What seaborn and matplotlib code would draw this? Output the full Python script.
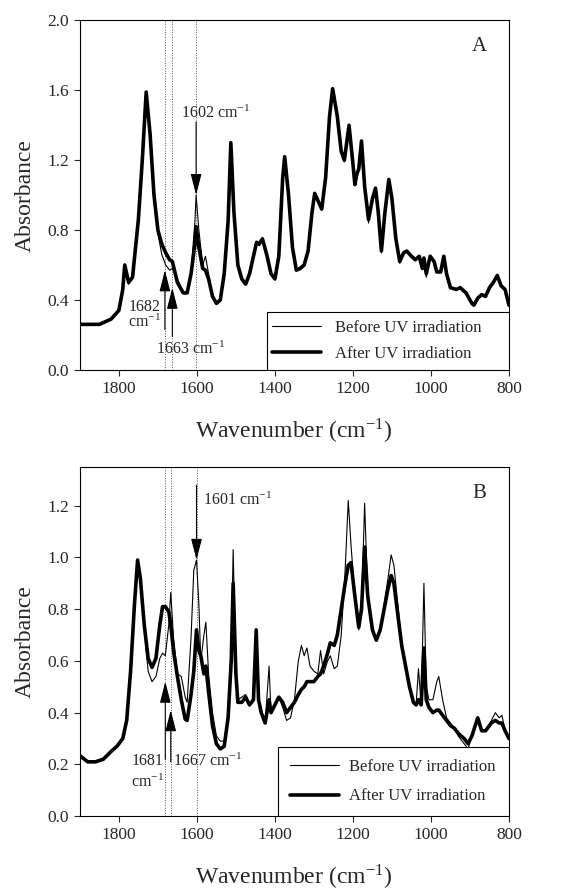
import matplotlib
matplotlib.use("Agg")
import matplotlib.pyplot as plt
from matplotlib.patches import Rectangle
import seaborn as sns

# Panel A: wavenumber grid and absorbance
wn_a = [1900, 1850, 1820, 1800, 1790, 1785, 1775, 1765, 1750, 1740,
        1730, 1720, 1710, 1700, 1690, 1680, 1670, 1663, 1650, 1635,
        1625, 1615, 1605, 1602, 1595, 1585, 1578, 1570, 1560, 1550,
        1540, 1530, 1520, 1513, 1505, 1495, 1485, 1475, 1465, 1455,
        1447, 1440, 1432, 1420, 1410, 1400, 1390, 1380, 1375, 1365,
        1355, 1345, 1335, 1325, 1315, 1305, 1298, 1290, 1280, 1270,
        1260, 1252, 1240, 1230, 1222, 1210, 1200, 1195, 1190, 1185,
        1178, 1170, 1160, 1150, 1142, 1135, 1127, 1118, 1108, 1100,
        1090, 1080, 1070, 1062, 1050, 1040, 1030, 1022, 1018, 1012,
        1002, 992, 985, 975, 967, 960, 950, 935, 925, 910,
        895, 890, 880, 870, 860, 850, 840, 830, 820, 810,
        800]
after_a = [0.26, 0.26, 0.29, 0.34, 0.46, 0.60, 0.50, 0.53, 0.86, 1.20,
           1.59, 1.35, 1.00, 0.80, 0.72, 0.67, 0.63, 0.62, 0.50, 0.44,
           0.44, 0.55, 0.72, 0.82, 0.70, 0.58, 0.57, 0.52, 0.42, 0.38,
           0.40, 0.55, 0.85, 1.30, 0.90, 0.60, 0.52, 0.49, 0.55, 0.65,
           0.73, 0.72, 0.75, 0.65, 0.55, 0.52, 0.65, 1.10, 1.22, 1.00,
           0.70, 0.57, 0.58, 0.60, 0.68, 0.90, 1.01, 0.97, 0.92, 1.10,
           1.45, 1.61, 1.45, 1.25, 1.20, 1.40, 1.18, 1.06, 1.12, 1.15,
           1.31, 1.05, 0.86, 0.98, 1.04, 0.90, 0.68, 0.90, 1.09, 0.98,
           0.75, 0.62, 0.67, 0.68, 0.65, 0.63, 0.65, 0.58, 0.64, 0.55,
           0.65, 0.62, 0.56, 0.56, 0.65, 0.55, 0.47, 0.46, 0.47, 0.44,
           0.38, 0.37, 0.41, 0.43, 0.42, 0.47, 0.50, 0.54, 0.48, 0.46,
           0.37]
before_a = [0.26, 0.26, 0.29, 0.34, 0.46, 0.60, 0.49, 0.53, 0.86, 1.20,
            1.59, 1.35, 1.00, 0.78, 0.66, 0.60, 0.57, 0.58, 0.52, 0.44,
            0.44, 0.56, 0.85, 1.00, 0.80, 0.60, 0.65, 0.55, 0.42, 0.38,
            0.40, 0.55, 0.85, 1.30, 0.90, 0.60, 0.52, 0.49, 0.55, 0.65,
            0.72, 0.71, 0.74, 0.65, 0.55, 0.52, 0.65, 1.10, 1.22, 1.00,
            0.70, 0.57, 0.59, 0.60, 0.68, 0.90, 1.01, 0.97, 0.92, 1.10,
            1.45, 1.61, 1.45, 1.25, 1.19, 1.40, 1.18, 1.07, 1.12, 1.15,
            1.31, 1.05, 0.84, 0.98, 1.04, 0.90, 0.67, 0.90, 1.09, 0.98,
            0.75, 0.61, 0.67, 0.68, 0.65, 0.63, 0.65, 0.58, 0.64, 0.53,
            0.65, 0.62, 0.56, 0.56, 0.65, 0.53, 0.47, 0.46, 0.47, 0.44,
            0.38, 0.37, 0.41, 0.43, 0.42, 0.47, 0.50, 0.54, 0.48, 0.46,
            0.37]

# Panel B
wn_b = [1900, 1880, 1860, 1840, 1820, 1805, 1790, 1780, 1770, 1760,
        1752, 1745, 1735, 1725, 1715, 1705, 1695, 1688, 1681, 1672,
        1667, 1660, 1650, 1640, 1630, 1625, 1615, 1608, 1601, 1595,
        1590, 1582, 1577, 1570, 1560, 1550, 1540, 1530, 1520, 1512,
        1507, 1500, 1495, 1485, 1475, 1465, 1455, 1448, 1442, 1435,
        1425, 1415, 1410, 1400, 1390, 1380, 1370, 1360, 1350, 1340,
        1332, 1325, 1318, 1310, 1300, 1290, 1283, 1275, 1265, 1258,
        1248, 1240, 1230, 1220, 1212, 1205, 1195, 1185, 1178, 1170,
        1162, 1150, 1140, 1130, 1120, 1110, 1102, 1095, 1085, 1075,
        1065, 1055, 1045, 1038, 1032, 1025, 1018, 1012, 1005, 995,
        985, 980, 970, 960, 950, 940, 930, 915, 905, 895,
        880, 870, 860, 845, 835, 825, 818, 810, 800]
after_b = [0.234, 0.21, 0.21, 0.22, 0.25, 0.27, 0.30, 0.37, 0.56, 0.82,
           0.99, 0.92, 0.74, 0.61, 0.575, 0.61, 0.74, 0.81, 0.81, 0.79,
           0.74, 0.64, 0.54, 0.45, 0.375, 0.37, 0.47, 0.56, 0.72, 0.64,
           0.62, 0.55, 0.58, 0.48, 0.35, 0.28, 0.26, 0.27, 0.38, 0.60,
           0.90, 0.55, 0.44, 0.44, 0.46, 0.43, 0.45, 0.72, 0.45, 0.40,
           0.36, 0.45, 0.40, 0.43, 0.46, 0.44, 0.40, 0.42, 0.44, 0.47,
           0.49, 0.50, 0.52, 0.52, 0.52, 0.54, 0.55, 0.58, 0.63, 0.67,
           0.66, 0.70, 0.80, 0.90, 0.97, 0.98, 0.85, 0.73, 0.80, 1.04,
           0.85, 0.72, 0.68, 0.72, 0.80, 0.88, 0.93, 0.90, 0.78, 0.66,
           0.58, 0.50, 0.44, 0.43, 0.45, 0.43, 0.65, 0.45, 0.42, 0.40,
           0.41, 0.41, 0.39, 0.37, 0.35, 0.34, 0.32, 0.30, 0.28, 0.31,
           0.38, 0.33, 0.33, 0.36, 0.37, 0.36, 0.36, 0.33, 0.30]
before_b = [0.234, 0.21, 0.21, 0.22, 0.25, 0.27, 0.30, 0.37, 0.56, 0.82,
            0.99, 0.92, 0.72, 0.56, 0.52, 0.54, 0.61, 0.63, 0.62, 0.74,
            0.865, 0.69, 0.55, 0.54, 0.46, 0.44, 0.69, 0.95, 0.99, 0.82,
            0.60, 0.70, 0.75, 0.55, 0.40, 0.31, 0.29, 0.29, 0.40, 0.62,
            1.03, 0.55, 0.45, 0.46, 0.47, 0.43, 0.45, 0.72, 0.45, 0.40,
            0.36, 0.58, 0.40, 0.43, 0.46, 0.42, 0.37, 0.38, 0.45, 0.60,
            0.66, 0.62, 0.65, 0.58, 0.56, 0.55, 0.64, 0.55, 0.60, 0.62,
            0.57, 0.58, 0.70, 0.95, 1.22, 1.05, 0.85, 0.72, 0.80, 1.21,
            0.85, 0.72, 0.68, 0.72, 0.82, 0.92, 1.01, 0.97, 0.82, 0.66,
            0.58, 0.50, 0.44, 0.43, 0.57, 0.43, 0.90, 0.50, 0.45, 0.45,
            0.52, 0.54, 0.45, 0.38, 0.36, 0.34, 0.31, 0.28, 0.26, 0.31,
            0.38, 0.33, 0.33, 0.37, 0.40, 0.38, 0.39, 0.33, 0.30]

marks_a = [1682, 1663, 1602]
marks_b = [1681, 1667, 1601]
x_ticks = [1800, 1600, 1400, 1200, 1000, 800]

sns.set_style("ticks")
plt.rcParams['font.family'] = ['Liberation Serif', 'DejaVu Serif']
plt.rcParams['mathtext.fontset'] = 'stix'

fig = plt.figure(figsize=(5.83, 8.91), dpi=100)
ax_a = fig.add_axes([0.137, 0.585, 0.736, 0.392])
ax_b = fig.add_axes([0.137, 0.084, 0.736, 0.392])

ARROW = dict(arrowstyle='-|>,head_length=1.1,head_width=0.28', mutation_scale=12,
             color='black', lw=0.8, shrinkA=0, shrinkB=0)


def draw_panel(ax, wn, before, after, marks, ymax, yticks, letter, box, spacing, tpad, lx):
    sns.lineplot(x=wn, y=before, ax=ax, color='black', lw=0.8, sort=False, estimator=None,
                 label='Before UV irradiation', solid_joinstyle='round')
    sns.lineplot(x=wn, y=after, ax=ax, color='black', lw=2.6, sort=False, estimator=None,
                 label='After UV irradiation', solid_joinstyle='round')
    for m in marks:
        ax.axvline(m, color='#555555', lw=0.7, ls=':', zorder=0)
    ax.set_xlim(1900, 800)
    ax.set_ylim(0, ymax)
    ax.set_xticks(x_ticks)
    ax.set_yticks(yticks)
    ax.set_yticklabels([f"{t:.1f}" for t in yticks])
    ax.tick_params(direction='out', length=4, width=0.8, labelsize=12.5, pad=4)
    for s in ax.spines.values():
        s.set_linewidth(0.8)
        s.set_color('black')
    ax.set_xlabel('Wavenumber (cm$^{\\mathregular{-1}}$)', fontsize=17, labelpad=14)
    ax.set_ylabel('Absorbance', fontsize=17, labelpad=8)
    ax.text(0.932, 0.925, letter, transform=ax.transAxes, fontsize=15, ha='center', va='center')
    # legend box reaches the right and bottom axes edges, text sits left inside it
    x0, h = box
    ax.add_patch(Rectangle((x0, 0), 1 - x0, h, transform=ax.transAxes, facecolor='white',
                           edgecolor='black', lw=0.8, zorder=4))
    leg = ax.legend(loc='center left', bbox_to_anchor=(x0 + lx, h / 2), frameon=False,
                    borderaxespad=0, borderpad=0, fontsize=12, handlelength=2.95,
                    handletextpad=tpad, labelspacing=spacing)
    leg.set_zorder(5)


draw_panel(ax_a, wn_a, before_a, after_a, marks_a, 2.0, [0.0, 0.4, 0.8, 1.2, 1.6, 2.0], 'A',
           (0.436, 0.166), 0.62, 0.85, 0.012)
draw_panel(ax_b, wn_b, before_b, after_b, marks_b, 1.35, [0.0, 0.2, 0.4, 0.6, 0.8, 1.0, 1.2], 'B',
           (0.462, 0.197), 0.8, 0.6, 0.028)

sup = '$^{\\mathregular{-1}}$'
# Panel A annotations
ax_a.annotate('', xy=(1602, 1.0), xytext=(1602, 1.42), arrowprops=ARROW)
ax_a.text(1552, 1.47, '1602 cm' + sup, fontsize=11.5, ha='center', va='center')
ax_a.annotate('', xy=(1682, 0.57), xytext=(1682, 0.23), arrowprops=ARROW)
ax_a.text(1733, 0.36, '1682', fontsize=11.5, ha='center', va='center')
ax_a.text(1733, 0.27, 'cm' + sup, fontsize=11.5, ha='center', va='center')
ax_a.annotate('', xy=(1663, 0.47), xytext=(1663, 0.19), arrowprops=ARROW)
ax_a.text(1617, 0.115, '1663 cm' + sup, fontsize=11.5, ha='center', va='center')

# Panel B annotations
ax_b.annotate('', xy=(1601, 0.99), xytext=(1601, 1.28), arrowprops=ARROW)
ax_b.text(1584, 1.22, '1601 cm' + sup, fontsize=11.5, ha='left', va='center')
ax_b.annotate('', xy=(1681, 0.52), xytext=(1681, 0.22), arrowprops=ARROW)
ax_b.text(1727, 0.215, '1681', fontsize=11.5, ha='center', va='center')
ax_b.text(1727, 0.13, 'cm' + sup, fontsize=11.5, ha='center', va='center')
ax_b.annotate('', xy=(1667, 0.41), xytext=(1667, 0.21), arrowprops=ARROW)
ax_b.text(1662, 0.21, '1667 cm' + sup, fontsize=11.5, ha='left', va='center')

fig.savefig('out.png', dpi=100)
